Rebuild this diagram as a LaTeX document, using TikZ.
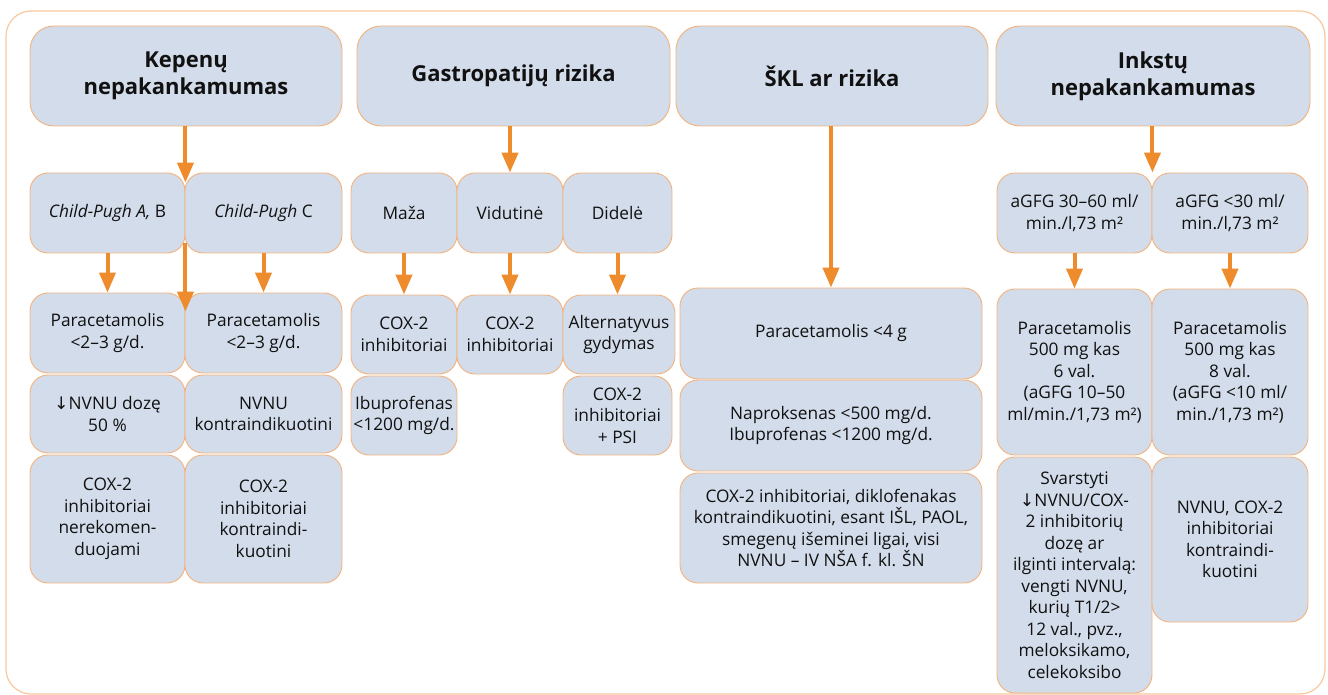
\documentclass[tikz,border=0pt]{standalone}
\usepackage{fontspec}
\setmainfont{Open Sans}
\newfontfamily\symfont{DejaVu Sans}
\usetikzlibrary{calc,arrows.meta}
\definecolor{boxfill}{HTML}{D3DCEA}
\definecolor{boxline}{HTML}{F3B27C}
\definecolor{arrowc}{HTML}{EE8B2C}
\definecolor{framec}{HTML}{F8C89C}
\definecolor{ink}{HTML}{111111}

% \flowbox[style]{name}{x1}{y1}{x2}{y2}{text}: a box given by its corners
\newcommand\flowbox[7][box]{%
  \node[#1, minimum width={#5pt-#3pt}, minimum height={#6pt-#4pt}]
    (#2) at ({(#3+#5)/2},{(#4+#6)/2}) {#7};}

\begin{document}
\begin{tikzpicture}[x=1pt,y=-1pt,
  box/.style={draw=boxline, fill=boxfill, line width=0.9pt, rounded corners=18pt,
    align=center, inner sep=0pt, text=ink, font=\fontsize{17.3}{21.5}\selectfont},
  head/.style={box, rounded corners=24pt, font=\fontsize{22}{27}\selectfont\bfseries},
  flow/.style={draw=arrowc, line width=4pt, -{Triangle[length=20pt,width=16pt]}}]
\useasboundingbox (0,0) rectangle (1328,695);
\draw[framec, line width=1.2pt, rounded corners=25pt] (6,11) rectangle (1325,694);

% headers
\flowbox[head]{kep}{30}{26}{342}{126}{Kepenų\\nepakankamumas}
\flowbox[head]{gas}{357}{26}{670}{126}{Gastropatijų rizika}
\flowbox[head]{skl}{676}{26}{988}{126}{ŠKL ar rizika}
\flowbox[head]{ink}{996}{26}{1310}{126}{Inkstų\\nepakankamumas}

% liver branch
\flowbox{cpa}{30}{173}{185}{253}{\textit{Child-Pugh A,} B}
\flowbox{cpc}{185}{173}{342}{253}{\textit{Child-Pugh} C}
\flowbox{pa1}{30}{293}{185}{373}{Paracetamolis\\<2–3 g/d.}
\flowbox{pa2}{185}{293}{342}{373}{Paracetamolis\\<2–3 g/d.}
\flowbox{nv1}{30}{375}{185}{453}{{\symfont ↓}NVNU dozę\\50 \%}
\flowbox{nv2}{185}{375}{342}{453}{NVNU\\kontraindikuotini}
\flowbox{cx1}{30}{455}{185}{583}{COX-2\\inhibitoriai\\nerekomen-\\duojami}
\flowbox{cx2}{185}{455}{342}{583}{COX-2\\inhibitoriai\\kontraindi-\\kuotini}

% gastropathy branch
\flowbox{maza}{351}{173}{457}{253}{Maža}
\flowbox{vid}{457}{173}{563}{253}{Vidutinė}
\flowbox{did}{563}{173}{672}{253}{Didelė}
\flowbox{gm1}{351}{295}{457}{374}{COX-2\\inhibitoriai}
\flowbox{gv1}{457}{295}{563}{374}{COX-2\\inhibitoriai}
\flowbox{gd1}{563}{295}{675}{374}{Alternatyvus\\gydymas}
\flowbox{gm2}{351}{376}{457}{455}{Ibuprofenas\\<1200 mg/d.}
\flowbox{gd2}{563}{376}{672}{455}{COX-2\\inhibitoriai\\+ PSI}

% cardiovascular branch
\flowbox{s1}{680}{288}{982}{379}{Paracetamolis <4 g}
\flowbox{s2}{680}{380}{982}{471}{Naproksenas <500 mg/d.\\Ibuprofenas <1200 mg/d.}
\flowbox{s3}{680}{473}{982}{583}{COX-2 inhibitoriai, diklofenakas\\kontraindikuotini, esant IŠL, PAOL,\\smegenų išeminei ligai, visi\\NVNU – IV NŠA f. kl. ŠN}

% kidney branch
\flowbox{ga}{997}{173}{1152}{253}{aGFG 30–60 ml/\\min./l,73 m²}
\flowbox{gb}{1152}{173}{1308}{253}{aGFG <30 ml/\\min./l,73 m²}
\flowbox{k1}{997}{289}{1152}{455}{Paracetamolis\\500 mg kas\\6 val.\\(aGFG 10–50\\ml/min./1,73 m²)}
\flowbox{k2}{1152}{289}{1308}{455}{Paracetamolis\\500 mg kas\\8 val.\\(aGFG <10 ml/\\min./1,73 m²)}
\flowbox{k3}{997}{457}{1152}{693}{Svarstyti\\{\symfont ↓}NVNU/COX-\\2 inhibitorių\\dozę ar\\ilginti intervalą:\\vengti NVNU,\\kurių T1/2>\\12 val., pvz.,\\meloksikamo,\\celekoksibo}
\flowbox{k4}{1152}{457}{1308}{622}{NVNU, COX-2\\inhibitoriai\\kontraindi-\\kuotini}

% connectors
\draw[flow] (cpa.north east |- kep.south) -- ($(cpa.north east)+(0,10)$);
\draw[flow] (cpa.south) -- (pa1.north);
\draw[flow] ($(cpa.south east)+(0,-10)$) -- ($(pa1.north east)+(0,19)$);
\draw[flow] (cpc.south) -- (pa2.north);

\draw[flow] (vid.north |- gas.south) -- (vid.north);
\draw[flow] (maza.south) -- (gm1.north);
\draw[flow] (vid.south) -- (gv1.north);
\draw[flow] (did.south) -- (did.south |- gd1.north);

\draw[flow] (s1.north |- skl.south) -- (s1.north);

\draw[flow] (ga.north east |- ink.south) -- (ga.north east);
\draw[flow] (ga.south) -- (k1.north);
\draw[flow] (gb.south) -- (k2.north);
\end{tikzpicture}
\end{document}
